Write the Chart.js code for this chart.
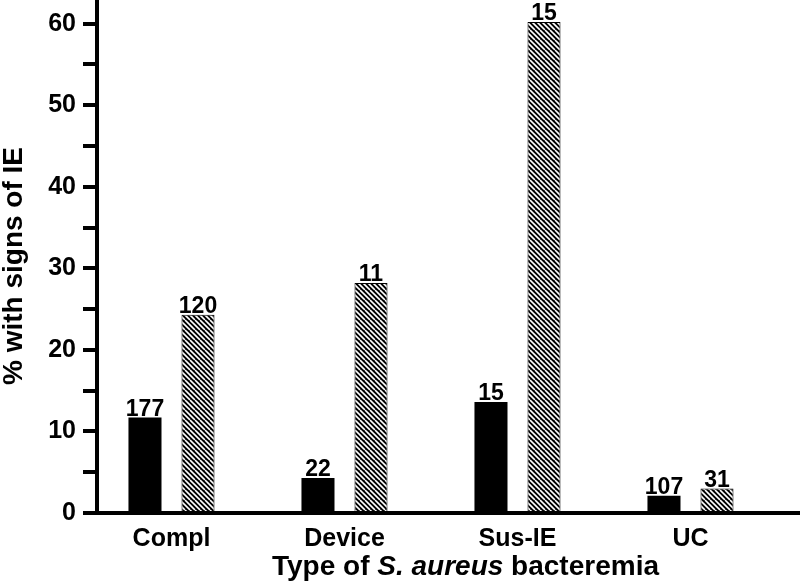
<!DOCTYPE html>
<html>
<head>
<meta charset="utf-8">
<script src="https://cdn.jsdelivr.net/npm/chart.js@4/dist/chart.umd.min.js"></script>
<style>
  html, body { margin: 0; padding: 0; background: #fff; }
  #wrap { width: 800px; height: 588px; position: relative; }
</style>
</head>
<body>
<div id="wrap"><canvas id="ieChart"></canvas></div>
<script>
/* DATA */
const categories = ["Compl", "Device", "Sus-IE", "UC"];
const pctSolid = [11.7, 4.3, 13.6, 2.1];      // black bars
const pctHatched = [24.3, 28.2, 60.2, 3.0];   // hatched bars
const nSolid = [177, 22, 15, 107];
const nHatched = [120, 11, 15, 31];
const yTickLabels = [0, 10, 20, 30, 40, 50, 60];

const FONT = "'Liberation Sans', Arial, Helvetica, sans-serif";

/* HATCH PATTERN */
function makeHatch() {
    const c = document.createElement("canvas");
    c.width = 10;
    c.height = 10;
    const g = c.getContext("2d");
    g.fillStyle = "#000";
    g.fillRect(0, 0, 10, 10);
    g.strokeStyle = "#fff";
    g.lineWidth = 1.6;
    for (let k = -3; k <= 3; k++) {
        g.beginPath();
        g.moveTo(k * 5, 0);
        g.lineTo(k * 5 + 10, 10);
        g.stroke();
    }
    return g.createPattern(c, "repeat");
}

/* COUNTS ABOVE BARS + AXIS TITLES */
const labelsPlugin = {
    id: "labels",
    afterDatasetsDraw(chart) {
        const ctx = chart.ctx;
        const counts = [nSolid, nHatched];
        ctx.save();
        ctx.fillStyle = "#000";
        ctx.font = "bold 23px " + FONT;
        ctx.textAlign = "center";
        ctx.textBaseline = "alphabetic";
        chart.data.datasets.forEach((ds, di) => {
            chart.getDatasetMeta(di).data.forEach((bar, i) => {
                ctx.fillText(String(counts[di][i]), bar.x, bar.y - 2);
            });
        });
        ctx.restore();
    },
    afterDraw(chart) {
        const ctx = chart.ctx;
        ctx.save();
        ctx.fillStyle = "#000";
        ctx.textBaseline = "alphabetic";

        // x title with italic species name
        const parts = [
            { t: "Type of ", f: "bold 28px " + FONT },
            { t: "S. aureus", f: "italic bold 28px " + FONT },
            { t: " bacteremia", f: "bold 28px " + FONT }
        ];
        let total = 0;
        parts.forEach(p => { ctx.font = p.f; p.w = ctx.measureText(p.t).width; total += p.w; });
        let x = 465.5 - total / 2;
        ctx.textAlign = "left";
        parts.forEach(p => { ctx.font = p.f; ctx.fillText(p.t, x, 575); x += p.w; });

        // y title
        ctx.translate(22, 266);
        ctx.rotate(-Math.PI / 2);
        ctx.font = "bold 28px " + FONT;
        ctx.textAlign = "center";
        ctx.fillText("% with signs of IE", 0, 0);
        ctx.restore();
    }
};

const hatch = makeHatch();

new Chart(document.getElementById("ieChart"), {
    type: "bar",
    data: {
        datasets: [{
            data: categories.map((c, i) => ({ x: i, y: pctSolid[i] })),
            backgroundColor: "#000",
            borderWidth: 0
        }, {
            data: categories.map((c, i) => ({ x: i, y: pctHatched[i] })),
            backgroundColor: hatch,
            borderColor: "#000",
            borderWidth: 1
        }]
    },
    options: {
        responsive: true,
        maintainAspectRatio: false,
        animation: false,
        layout: { padding: 0 },
        categoryPercentage: 0.613,
        barPercentage: 0.623,
        plugins: {
            legend: { display: false },
            tooltip: { enabled: false }
        },
        scales: {
            x: {
                type: "linear",
                offset: false,
                min: -0.4306,
                max: 3.633,
                grid: { display: true, offset: false, drawOnChartArea: false, drawTicks: false },
                border: { display: true, color: "#000", width: 4 },
                ticks: {
                    stepSize: 1,
                    includeBounds: false,
                    autoSkip: false,
                    maxRotation: 0,
                    padding: 11,
                    color: "#000",
                    font: { family: FONT, size: 25, weight: "bold" },
                    callback: v => categories[v] !== undefined ? categories[v] : ""
                },
                afterFit(scale) {
                    scale.height = 75;
                    scale.paddingLeft = 0;
                    scale.paddingRight = 0;
                }
            },
            y: {
                min: 0,
                max: 62.9,
                grid: {
                    drawOnChartArea: false,
                    drawTicks: true,
                    tickLength: 14,
                    lineWidth: 4,
                    color: "#000",
                    tickColor: "#000"
                },
                border: { display: true, color: "#000", width: 4 },
                ticks: {
                    stepSize: 5,
                    includeBounds: false,
                    padding: 7,
                    color: "#000",
                    font: { family: FONT, size: 25, weight: "bold" },
                    callback: v => yTickLabels.includes(v) ? String(v) : ""
                },
                afterFit(scale) {
                    scale.width = 97;
                    scale.paddingTop = 0;
                    scale.paddingBottom = 0;
                }
            }
        }
    },
    plugins: [labelsPlugin]
});
</script>
</body>
</html>
